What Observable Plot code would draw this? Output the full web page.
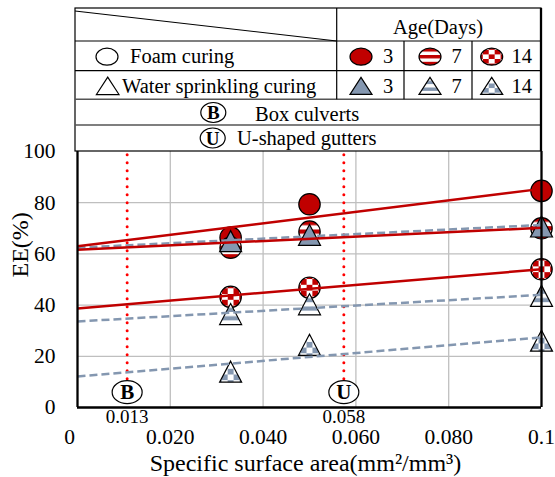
<!DOCTYPE html>
<html><head><meta charset="utf-8">
<script src="https://cdn.jsdelivr.net/npm/d3@7"></script>
<script src="https://cdn.jsdelivr.net/npm/@observablehq/plot@0.6"></script>
<style>body{margin:0;background:white} svg{display:block}</style>
</head><body><div id="chart"></div>
<script>
// ---------- data ----------
const xValues = [0.033, 0.05, 0.1];
const ageDays = ["3", "7", "14"];
const foam3 = [66.4, 79.4, 84.6];
const foam7 = [62.4, 68.7, 70.0];
const foam14 = [43.2, 46.8, 54.0];
const water3 = [65.0, 67.4, 70.7];
const water7 = [36.5, 40.3, 43.6];
const water14 = [14.0, 24.5, 26.1];
const trendX = [0, 0.1];
const trendFoam3 = [63.0, 85.4];
const trendFoam7 = [61.6, 70.2];
const trendFoam14 = [38.7, 54.0];
const trendWater3 = [62.4, 71.3];
const trendWater7 = [33.6, 44.0];
const trendWater14 = [12.1, 27.4];
const refNames = ["B", "U"];
const refX = [0.0107, 0.0574];
const refLabels = ["0.013", "0.058"];
const refNamesLong = ["Box culverts", "U-shaped gutters"];
const xTicks = [0, 0.02, 0.04, 0.06, 0.08, 0.1];
const xTickLabels = ["0", "0.020", "0.040", "0.060", "0.080", "0.1"];
const yTicks = [0, 20, 40, 60, 80, 100];
const curingNames = ["Foam curing", "Water sprinkling curing"];
const legendTitle = "Age(Days)";
const xTitle = "Specific surface area(mm²/mm³)";
const yTitle = "EE(%)";

// ---------- styles ----------
const FONT = "'Liberation Serif','Times New Roman',serif";
const RED = "#C00000", GREY = "#8497B0";
const foamFills = [RED, "url(#redStripe)", "url(#redCheck)"];
const waterFills = [GREY, "url(#greyStripe)", "url(#greyCheck)"];

function drawEllipse(ctx, rx, ry) {
  const k = 0.5523, ox = rx * k, oy = ry * k;
  ctx.moveTo(-rx, 0);
  ctx.bezierCurveTo(-rx, -oy, -ox, -ry, 0, -ry);
  ctx.bezierCurveTo(ox, -ry, rx, -oy, rx, 0);
  ctx.bezierCurveTo(rx, oy, ox, ry, 0, ry);
  ctx.bezierCurveTo(-ox, ry, -rx, oy, -rx, 0);
  ctx.closePath();
}
const ellipseSymbol = (aspect) => ({draw(ctx, size) { const r = Math.sqrt(size / Math.PI); drawEllipse(ctx, r * aspect, r); }});
const triangleSymbol = (aspect) => ({draw(ctx, size) {
  const r = Math.sqrt(size / Math.PI), h = 2 * r * aspect;
  ctx.moveTo(0, -h / 2); ctx.lineTo(r, h / 2); ctx.lineTo(-r, h / 2); ctx.closePath();
}});

const pts = (vals) => xValues.map((x, i) => ({x, y: vals[i]}));
const trendRow = (v) => ({x1: trendX[0], x2: trendX[1], y1: v[0], y2: v[1]});
const refData = refNames.map((n, i) => ({name: n, x: refX[i], label: refLabels[i]}));

const foamSeries = [foam3, foam7, foam14];
const waterSeries = [water3, water7, water14];
const triSym = triangleSymbol(21 / 22);

const marks = [
  Plot.gridY([20, 40, 60, 80], {stroke: "#BFBFBF", strokeOpacity: 1, strokeWidth: 1.3}),
  Plot.gridX([0.02, 0.04, 0.06, 0.08], {stroke: "#BFBFBF", strokeOpacity: 1, strokeWidth: 1.3}),
  Plot.ruleX(refData, {x: "x", y1: 11, y2: 99, stroke: "#FF0000", strokeWidth: 3, strokeDasharray: "0 8", strokeLinecap: "round"}),
];
foamSeries.forEach((s, i) => marks.push(Plot.dot(pts(s), {x: "x", y: "y", symbol: "circle", r: 10.7, fill: foamFills[i], stroke: "black", strokeWidth: 1.2})));
waterSeries.forEach((s, i) => marks.push(Plot.dot(pts(s), {x: "x", y: "y", symbol: triSym, r: 11, fill: waterFills[i], stroke: "black", strokeWidth: 1.2})));
marks.push(
  Plot.link([trendWater3, trendWater7, trendWater14].map(trendRow), {x1: "x1", x2: "x2", y1: "y1", y2: "y2", stroke: GREY, strokeWidth: 2.5, strokeDasharray: "8 4"}),
  Plot.link([trendFoam3, trendFoam7, trendFoam14].map(trendRow), {x1: "x1", x2: "x2", y1: "y1", y2: "y2", stroke: RED, strokeWidth: 2.5}),
  Plot.ruleX([0, 0.1], {stroke: "black", strokeWidth: 2.3}),
  Plot.ruleY([0], {stroke: "black", strokeWidth: 2.3}),
  Plot.dot(refData, {x: "x", y: 6, symbol: ellipseSymbol(15 / 11.5), r: 11.5, fill: "white", stroke: "black", strokeWidth: 1.2}),
  Plot.text(refData, {x: "x", y: 6, text: "name", fontWeight: "bold", fontSize: 21}),
  Plot.text(refData, {x: "x", y: 0, dy: 9.5, text: "label", fontSize: 19}),
  Plot.axisY(yTicks, {tickSize: 0, tickPadding: 22, label: null}),
  Plot.axisX(xTicks.slice(1), {tickSize: 0, tickPadding: 21, label: null, tickFormat: (d) => xTickLabels[xTicks.indexOf(d)]}),
  Plot.axisX([0], {tickSize: 0, tickPadding: 21, label: null, dx: -8, tickFormat: () => xTickLabels[0]}),
  Plot.text([yTitle], {text: (d) => d, frameAnchor: "left", rotate: -90, dx: -57, dy: -2, fontSize: 24}),
  Plot.text([xTitle], {text: (d) => d, frameAnchor: "bottom", lineAnchor: "middle", dx: -4, dy: 56, fontSize: 24})
);

const chart = Plot.plot({
  width: 555, height: 477,
  marginLeft: 77, marginRight: 14, marginTop: 151, marginBottom: 70,
  x: {domain: [0, 0.1]},
  y: {domain: [0, 100]},
  style: {fontFamily: FONT, fontSize: "21.5px", background: "white", color: "black", overflow: "visible"},
  marks
});
document.getElementById("chart").append(chart);

// ---------- patterns ----------
const svg = d3.select(chart);
const defs = svg.insert("defs", ":first-child");
function stripePattern(id, color, offset) {
  const p = defs.append("pattern").attr("id", id).attr("patternUnits", "objectBoundingBox")
    .attr("patternContentUnits", "objectBoundingBox").attr("width", 1).attr("height", 0.4);
  p.append("rect").attr("width", 1).attr("height", 0.4).attr("fill", "white");
  p.append("rect").attr("y", offset).attr("width", 1).attr("height", 0.2).attr("fill", color);
}
function checkPattern(id, color) {
  const c = 0.27, o = 0.5 - 1.5 * c;
  const p = defs.append("pattern").attr("id", id).attr("patternUnits", "objectBoundingBox")
    .attr("patternContentUnits", "objectBoundingBox")
    .attr("x", o).attr("y", o).attr("width", 2 * c).attr("height", 2 * c);
  p.append("rect").attr("width", 2 * c).attr("height", 2 * c).attr("fill", "white");
  p.append("rect").attr("width", c).attr("height", c).attr("fill", color);
  p.append("rect").attr("x", c).attr("y", c).attr("width", c).attr("height", c).attr("fill", color);
}
stripePattern("redStripe", RED, 0);
stripePattern("greyStripe", GREY, 0.2);
checkPattern("redCheck", RED);
checkPattern("greyCheck", GREY);

// ---------- legend table ----------
const lg = svg.append("g").attr("font-family", FONT).attr("font-size", 20.5).attr("fill", "black");
const L = 75, R = 541, T = 8, B = 151, rowY = [41, 70.7, 99.3, 125], colX = [336.7, 404, 472];
const ln = (x1, y1, x2, y2, w = 1.2, c = "black") => lg.append("line").attr("x1", x1).attr("y1", y1).attr("x2", x2).attr("y2", y2).attr("stroke", c).attr("stroke-width", w);
lg.append("rect").attr("x", L).attr("y", T).attr("width", R - L).attr("height", B - T).attr("fill", "white").attr("stroke", "black").attr("stroke-width", 1.2);
rowY.forEach((y, i) => ln(L, y, R, y, i >= 2 ? 1.5 : 1.2, i >= 2 ? "#555" : "black"));
ln(colX[0], T, colX[0], rowY[2]);
ln(colX[1], rowY[0], colX[1], rowY[2]);
ln(colX[2], rowY[0], colX[2], rowY[2]);
ln(L, T + 3, colX[0], rowY[0]);
ln(R, T, R, B, 2.3);

const symPath = (sym, r) => { const p = d3.path(); sym.draw(p, Math.PI * r * r); return p.toString(); };
const legEll = ellipseSymbol(11 / 8.5), legTri = triangleSymbol(17 / 22);
const addSym = (sym, r, x, y, fill) => lg.append("path").attr("d", symPath(sym, r)).attr("transform", `translate(${x},${y})`).attr("fill", fill).attr("stroke", "black").attr("stroke-width", 1.2);
const txt = (s, x, y, anchor = "start", extra = {}) => {
  const t = lg.append("text").attr("x", x).attr("y", y).attr("text-anchor", anchor)
    .style("font-family", FONT).style("font-size", (extra.size || 20.5) + "px")
    .style("font-weight", extra.bold ? "bold" : "normal").text(s);
  return t;
};

txt(legendTitle, 438, 34, "middle");
const r1 = 56.7, r2 = 85.8;
addSym(legEll, 8.5, 107, r1, "white");
txt(curingNames[0], 130, 63);
addSym(legTri, 11.3, 107.7, r2, "white");
txt(curingNames[1], 122, 93);
const mX = [361, 430, 491.7], nX = [388, 456.7, 521.7];
ageDays.forEach((a, i) => {
  addSym(legEll, 8.5, mX[i], r1, foamFills[i]);
  txt(a, nX[i], 63, "middle");
  addSym(legTri, 11, mX[i], r2, waterFills[i]);
  txt(a, nX[i], 93, "middle");
});
const refEll = ellipseSymbol(12.5 / 10);
[[213.3, 112.5, 255, 120.5], [212.7, 138, 237, 145]].forEach(([cx, cy, tx, ty], i) => {
  addSym(refEll, 10, cx, cy, "white");
  txt(refNames[i], cx, cy + 6.5, "middle", {bold: true, size: 19});
  txt(refNamesLong[i], tx, ty);
});
</script></body></html>
